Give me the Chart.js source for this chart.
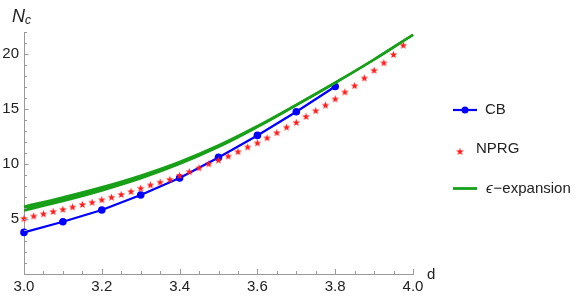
<!DOCTYPE html>
<html>
<head>
<meta charset="utf-8">
<script src="https://cdn.jsdelivr.net/npm/chart.js@4/dist/chart.umd.min.js"></script>
<style>
  body { margin: 0; background: #fff; }
</style>
</head>
<body>
<canvas id="chart" width="581" height="298"></canvas>
<script>
// CB (conformal bootstrap) points
const cbD  = [3.0, 3.1, 3.2, 3.3, 3.4, 3.5, 3.6, 3.7, 3.8];
const cbNc = [3.78, 4.75, 5.82, 7.18, 8.73, 10.6, 12.6, 14.75, 17.05];

// NPRG stars
const nprgD = [3.000, 3.025, 3.050, 3.075, 3.100, 3.125, 3.150, 3.175, 3.200, 3.225,
               3.250, 3.275, 3.300, 3.325, 3.350, 3.375, 3.400, 3.425, 3.450, 3.475,
               3.500, 3.525, 3.550, 3.575, 3.600, 3.625, 3.650, 3.675, 3.700, 3.725,
               3.750, 3.775, 3.800, 3.825, 3.850, 3.875, 3.900, 3.925, 3.950, 3.975];
const nprgNc = [5.05, 5.27, 5.47, 5.68, 5.88, 6.10, 6.32, 6.52, 6.75, 6.98,
                7.23, 7.50, 7.80, 8.10, 8.35, 8.60, 8.95, 9.30, 9.65, 10.02,
                10.36, 10.72, 11.12, 11.55, 11.92, 12.38, 12.85, 13.35, 13.78, 14.32,
                14.85, 15.35, 15.92, 16.55, 17.12, 17.82, 18.52, 19.20, 19.95, 20.80];

// epsilon-expansion band (two orders)
const epsD     = [3.0, 3.1, 3.2, 3.3, 3.4, 3.5, 3.6, 3.7, 3.8, 3.9, 4.0];
const epsUpper = [6.12, 6.96, 7.88, 8.94, 10.19, 11.68, 13.44, 15.38, 17.39, 19.5, 21.75];
const epsLower = [5.78, 6.64, 7.60, 8.70, 10.01, 11.56, 13.37, 15.35, 17.38, 19.5, 21.75];

const xTickLabels = ["3.0", "3.2", "3.4", "3.6", "3.8", "4.0"];
const yTickLabels = ["5", "10", "15", "20"];

const BLUE = "#0000ff";
const RED = "#ff1a1a";
const GREEN = "rgb(24,160,24)";
const FONT = "'Liberation Sans', Arial, sans-serif";

function pts(xs, ys) {
    return xs.map((x, i) => ({ x: x, y: ys[i] }));
}

function starPath(ctx, cx, cy, ro, ri) {
    ctx.beginPath();
    for (let k = 0; k < 10; k++) {
        let r = k % 2 === 0 ? ro : ri;
        let a = -Math.PI / 2 + k * Math.PI / 5;
        let px = cx + r * Math.cos(a), py = cy + r * Math.sin(a);
        if (k === 0) ctx.moveTo(px, py); else ctx.lineTo(px, py);
    }
    ctx.closePath();
}

let starImg = document.createElement("canvas");
starImg.width = 9;
starImg.height = 9;
{
    let c = starImg.getContext("2d");
    c.fillStyle = RED;
    starPath(c, 4.5, 4.8, 4.0, 1.7);
    c.fill();
}

const decorations = {
    id: "decorations",
    afterDraw(chart) {
        const ctx = chart.ctx;
        const xs = chart.scales.x, ys = chart.scales.y;
        const area = chart.chartArea;
        ctx.save();

        // inward ticks
        ctx.strokeStyle = "#999";
        ctx.lineWidth = 1;
        for (let i = 0; i <= 20; i++) {
            let v = 3 + i * 0.05;
            let px = Math.round(xs.getPixelForValue(v)) + 0.5;
            let len = i % 4 === 0 ? 5 : 3;
            ctx.beginPath();
            ctx.moveTo(px, area.bottom);
            ctx.lineTo(px, area.bottom - len);
            ctx.stroke();
        }
        for (let v = 1; v <= 22; v++) {
            let py = Math.round(ys.getPixelForValue(v)) + 0.5;
            let len = v % 5 === 0 ? 4.5 : 3;
            ctx.beginPath();
            ctx.moveTo(area.left, py);
            ctx.lineTo(area.left + len, py);
            ctx.stroke();
        }

        // axis titles
        ctx.fillStyle = "#222";
        ctx.textBaseline = "alphabetic";
        ctx.textAlign = "left";
        ctx.font = "italic 18px " + FONT;
        ctx.fillText("N", 12, 22);
        ctx.font = "italic 12px " + FONT;
        ctx.fillText("c", 25, 24);
        ctx.font = "15px " + FONT;
        ctx.fillText("d", 427, 279);

        // legend
        ctx.strokeStyle = BLUE;
        ctx.lineWidth = 2.2;
        ctx.beginPath();
        ctx.moveTo(453, 110);
        ctx.lineTo(477, 110);
        ctx.stroke();
        ctx.fillStyle = BLUE;
        ctx.beginPath();
        ctx.arc(465, 110, 3.5, 0, Math.PI * 2);
        ctx.fill();

        ctx.drawImage(starImg, 460 - 4.5, 151.5 - 4.5);

        ctx.strokeStyle = GREEN;
        ctx.lineWidth = 2.8;
        ctx.beginPath();
        ctx.moveTo(453, 188.5);
        ctx.lineTo(477, 188.5);
        ctx.stroke();

        ctx.fillStyle = "#222";
        ctx.textBaseline = "middle";
        ctx.font = "15px " + FONT;
        ctx.fillText("CB", 485, 110);
        ctx.fillText("NPRG", 476, 149);
        ctx.font = "italic 15px " + FONT;
        ctx.fillText("\u03f5", 486, 189);
        let w = ctx.measureText("\u03f5").width;
        ctx.font = "15px " + FONT;
        ctx.fillText("\u2212expansion", 486 + w + 1, 189);

        ctx.restore();
    }
};

new Chart(document.getElementById("chart"), {
    type: "scatter",
    data: {
        datasets: [
            {
                label: "epsUpper",
                data: pts(epsD, epsUpper),
                showLine: true,
                borderColor: GREEN,
                backgroundColor: GREEN,
                borderWidth: 2.6,
                pointRadius: 0,
                tension: 0.4,
                fill: "+1",
                clip: false
            },
            {
                label: "epsLower",
                data: pts(epsD, epsLower),
                showLine: true,
                borderColor: GREEN,
                borderWidth: 2.6,
                pointRadius: 0,
                tension: 0.4,
                fill: false,
                clip: false
            },
            {
                label: "NPRG",
                data: pts(nprgD, nprgNc),
                showLine: false,
                pointStyle: starImg,
                pointRadius: 4,
                clip: false
            },
            {
                label: "CB",
                data: pts(cbD, cbNc),
                showLine: true,
                borderColor: BLUE,
                backgroundColor: BLUE,
                borderWidth: 2.3,
                pointRadius: 3.8,
                pointBorderWidth: 0,
                clip: false
            }
        ]
    },
    options: {
        responsive: false,
        animation: false,
        layout: { padding: { left: 0, right: 168, top: 32, bottom: 0 } },
        plugins: {
            legend: { display: false },
            tooltip: { enabled: false },
            filler: { propagate: false }
        },
        scales: {
            x: {
                type: "linear",
                min: 3.0,
                max: 4.0,
                afterFit: s => { s.height = 24; },
                afterBuildTicks: s => {
                    s.ticks = xTickLabels.map(t => ({ value: parseFloat(t) }));
                },
                ticks: {
                    padding: 4,
                    maxRotation: 0,
                    color: "#222",
                    font: { family: FONT, size: 15 },
                    callback: v => v.toFixed(1)
                },
                grid: { display: false, drawTicks: false },
                border: { display: true, color: "#999", width: 1 }
            },
            y: {
                type: "linear",
                min: 0,
                max: 22,
                afterFit: s => { s.width = 24; },
                afterBuildTicks: s => {
                    s.ticks = yTickLabels.map(t => ({ value: parseFloat(t) }));
                },
                ticks: {
                    padding: 5,
                    color: "#222",
                    font: { family: FONT, size: 15 },
                    callback: v => String(v)
                },
                grid: { display: false, drawTicks: false },
                border: { display: true, color: "#999", width: 1 }
            }
        }
    },
    plugins: [decorations]
});
</script>
</body>
</html>
